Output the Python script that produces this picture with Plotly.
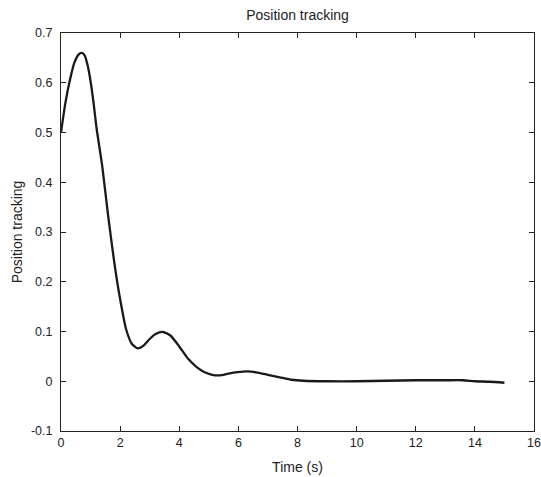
import plotly.graph_objects as go

time_s = [0, 0.15, 0.3, 0.45, 0.6, 0.7, 0.8, 0.9, 1.0, 1.1, 1.2, 1.4, 1.6, 1.8, 1.9, 2.0, 2.2, 2.4, 2.6,
          2.8, 3.0, 3.2, 3.45, 3.7, 4.0, 4.3, 4.6, 4.9, 5.2, 5.5, 5.8, 6.1, 6.3, 6.6, 7.0, 7.4,
          7.8, 8.2, 9, 10, 11, 12, 13, 13.6, 14, 14.5, 15]
position = [0.5, 0.56, 0.605, 0.64, 0.657, 0.66, 0.655, 0.635, 0.603, 0.56, 0.51, 0.43, 0.33, 0.24, 0.2,
            0.165, 0.105, 0.075, 0.066, 0.072, 0.085, 0.095, 0.099, 0.092, 0.07, 0.045, 0.028, 0.017,
            0.012, 0.013, 0.017, 0.019, 0.02, 0.018, 0.013, 0.008, 0.003, 0.001, 0, 0, 0.001, 0.002,
            0.002, 0.002, 0, -0.001, -0.003]

x_ticks = [0, 2, 4, 6, 8, 10, 12, 14, 16]
y_ticks = [-0.1, 0, 0.1, 0.2, 0.3, 0.4, 0.5, 0.6, 0.7]
y_tick_labels = ["-0.1", "0", "0.1", "0.2", "0.3", "0.4", "0.5", "0.6", "0.7"]

fig = go.Figure(go.Scatter(x=time_s, y=position, mode="lines",
                           line=dict(color="#1a1a1a", width=2.3, shape="spline", smoothing=0.6)))

FAM = "Liberation Sans, Arial, sans-serif"
tick_font = dict(family=FAM, size=12.5, color="#222")
title_font = dict(family=FAM, size=14, color="#222")
axis_common = dict(showline=True, linecolor="#222", linewidth=1, mirror="ticks", ticks="inside",
                   ticklen=5, tickcolor="#222", showgrid=False, zeroline=False, tickfont=tick_font,
                   automargin=False, ticklabeloverflow="allow")

W, H = 541, 477
fig.update_layout(
    width=W, height=H, margin=dict(l=61, r=7, t=33, b=46),
    paper_bgcolor="white", plot_bgcolor="white", showlegend=False,
    title=dict(text="Position tracking", x=0.5, xanchor="center", xref="paper",
               y=1 - 15 / H, yanchor="middle", font=title_font),
    xaxis=dict(range=[0, 16], tickvals=x_ticks, title=dict(text="Time (s)", font=title_font, standoff=13),
               **axis_common),
    yaxis=dict(range=[-0.1, 0.7], tickvals=y_ticks, ticktext=y_tick_labels, ticklabelstandoff=5,
               title=dict(text="Position tracking", font=title_font, standoff=5), **axis_common),
)

fig.write_html("out.html", config={"displayModeBar": False},
               post_script="document.body.style.margin='0';document.body.style.overflow='hidden';")
